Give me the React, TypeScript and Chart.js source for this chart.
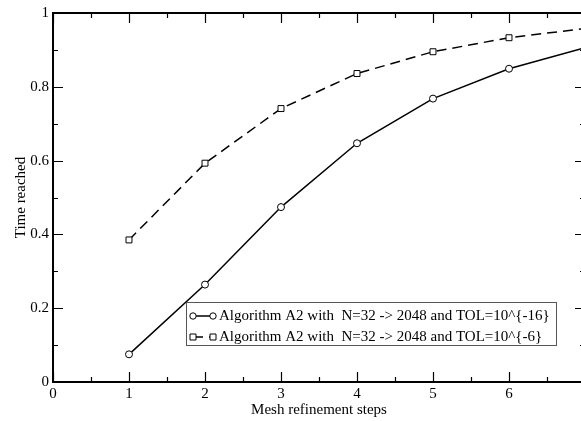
import React, { useEffect, useRef } from "react";
import { Chart, registerables } from "chart.js";

Chart.register(...registerables);

const steps = [1, 2, 3, 4, 5, 6, 7];
const tol16 = [0.075, 0.264, 0.474, 0.647, 0.768, 0.849, 0.906];
const tol6 = [0.385, 0.593, 0.741, 0.836, 0.895, 0.933, 0.958];
const xTicks = [0, 1, 2, 3, 4, 5, 6, 7];
const yTicks = [0, 0.2, 0.4, 0.6, 0.8, 1];
const label16 = "Algorithm A2 with  N=32 -> 2048 and TOL=10^{-16}";
const label6 = "Algorithm A2 with  N=32 -> 2048 and TOL=10^{-6}";
const xTitle = "Mesh refinement steps";
const yTitle = "Time reached";

const FONT = "'Liberation Serif', 'Times New Roman', serif";

const framePlugin = {
  id: "frame",
  afterDraw(chart: any) {
    const { ctx, chartArea: a, scales } = chart;
    const xs = scales.x;
    const ys = scales.y;
    ctx.save();
    ctx.strokeStyle = "#000";
    // ticks
    ctx.lineWidth = 1.2;
    ctx.beginPath();
    for (let v = 0; v <= 7.001; v += 0.5) {
      const px = Math.round(xs.getPixelForValue(v)) + 0.5;
      const len = Math.abs(v - Math.round(v)) < 1e-6 ? 10 : 5;
      ctx.moveTo(px, a.bottom);
      ctx.lineTo(px, a.bottom - len);
      ctx.moveTo(px, a.top);
      ctx.lineTo(px, a.top + len);
    }
    for (let i = 0; i <= 10; i++) {
      const v = i / 10;
      const py = Math.round(ys.getPixelForValue(v)) + 0.5;
      const len = i % 2 === 0 ? 10 : 5;
      ctx.moveTo(a.left, py);
      ctx.lineTo(a.left + len, py);
      ctx.moveTo(a.right, py);
      ctx.lineTo(a.right - len, py);
    }
    ctx.stroke();
    // frame
    ctx.lineWidth = 2;
    ctx.strokeRect(a.left, a.top, a.right - a.left, a.bottom - a.top);

    // axis titles
    ctx.fillStyle = "#000";
    ctx.font = `15px ${FONT}`;
    ctx.textAlign = "center";
    ctx.textBaseline = "alphabetic";
    ctx.fillText(xTitle, (a.left + a.right) / 2, 414);
    ctx.save();
    ctx.translate(25, (a.top + a.bottom) / 2);
    ctx.rotate(-Math.PI / 2);
    ctx.fillText(yTitle, 0, 0);
    ctx.restore();

    // legend
    const lx = 186.5, ly = 302.5, lw = 370, lh = 43;
    ctx.fillStyle = "#fff";
    ctx.fillRect(lx, ly, lw, lh);
    ctx.strokeStyle = "#555";
    ctx.lineWidth = 1;
    ctx.strokeRect(lx, ly, lw, lh);
    const rows = [316, 337];
    chart.data.datasets.forEach((ds: any, i: number) => {
      const y = rows[i];
      ctx.strokeStyle = "#000";
      ctx.lineWidth = 1.5;
      ctx.setLineDash(ds.borderDash || []);
      ctx.beginPath();
      ctx.moveTo(193, y);
      ctx.lineTo(213, y);
      ctx.stroke();
      ctx.setLineDash([]);
      ctx.lineWidth = 1;
      for (const mx of [193, 213]) {
        ctx.fillStyle = "#fff";
        ctx.beginPath();
        if (ds.pointStyle === "rect") {
          ctx.rect(mx - 3, y - 3, 6, 6);
        } else {
          ctx.arc(mx, y, 3.2, 0, Math.PI * 2);
        }
        ctx.fill();
        ctx.stroke();
      }
      ctx.fillStyle = "#000";
      ctx.font = `15px ${FONT}`;
      ctx.textAlign = "left";
      ctx.textBaseline = "middle";
      ctx.fillText(ds.label, 219, y);
    });
    ctx.restore();
  },
};

export default function App() {
  const ref = useRef<HTMLCanvasElement>(null);
  useEffect(() => {
    if (!ref.current) return;
    const chart = new Chart(ref.current, {
      type: "line",
      data: {
        datasets: [
          {
            label: label16,
            data: steps.map((s, i) => ({ x: s, y: tol16[i] })),
            borderColor: "#000",
            borderWidth: 1.5,
            pointStyle: "circle",
            pointRadius: 3.5,
            pointBorderWidth: 1,
            pointBorderColor: "#000",
            pointBackgroundColor: "#fff",
            tension: 0,
          },
          {
            label: label6,
            data: steps.map((s, i) => ({ x: s, y: tol6[i] })),
            borderColor: "#000",
            borderWidth: 1.5,
            borderDash: [10, 6],
            pointStyle: "rect",
            pointRadius: 4.2,
            pointBorderWidth: 1,
            pointBorderColor: "#000",
            pointBackgroundColor: "#fff",
            tension: 0,
          },
        ],
      },
      options: {
        animation: false,
        responsive: false,
        maintainAspectRatio: false,
        layout: { padding: { left: 0, right: 15, top: 11, bottom: 0 } },
        plugins: { legend: { display: false }, tooltip: { enabled: false } },
        scales: {
          x: {
            type: "linear",
            min: 0,
            max: 7,
            afterBuildTicks: (s: any) => {
              s.ticks = xTicks.map((v) => ({ value: v }));
            },
            afterFit: (s: any) => {
              s.height = 39;
            },
            grid: { display: false, drawTicks: false },
            border: { display: false },
            ticks: {
              color: "#000",
              font: { family: FONT, size: 15 },
              padding: 3,
              maxRotation: 0,
              autoSkip: false,
              callback: (v: any) => String(v),
            },
          },
          y: {
            type: "linear",
            min: 0,
            max: 1,
            afterBuildTicks: (s: any) => {
              s.ticks = yTicks.map((v) => ({ value: v }));
            },
            afterFit: (s: any) => {
              s.width = 53;
            },
            grid: { display: false, drawTicks: false },
            border: { display: false },
            ticks: {
              color: "#000",
              font: { family: FONT, size: 15 },
              padding: 4,
              autoSkip: false,
              callback: (v: any) => String(Math.round(v * 10) / 10),
            },
          },
        },
      },
      plugins: [framePlugin],
    });
    return () => chart.destroy();
  }, []);
  return (
    <div style={{ position: "fixed", left: 0, top: 0, width: 600, height: 421, background: "#fff" }}>
      <canvas ref={ref} width={600} height={421} style={{ display: "block" }} />
    </div>
  );
}
